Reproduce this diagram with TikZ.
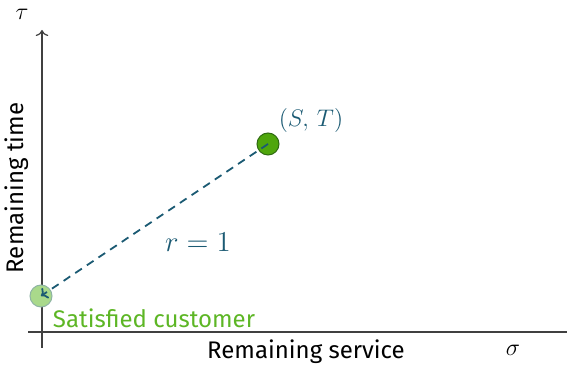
\documentclass[tikz,border=0pt]{standalone}
\usepackage{fontspec}
\setmainfont{Fira Sans}
\usetikzlibrary{arrows.meta}
\definecolor{axisgray}{HTML}{404040}
\definecolor{tealink}{HTML}{1B5A73}
\definecolor{darkgreen}{HTML}{4FA60C}
\definecolor{darkgreenedge}{HTML}{2F6A12}
\definecolor{lightgreen}{HTML}{A9D98B}
\definecolor{lightgreenedge}{HTML}{8FB4A4}
\definecolor{leafgreen}{HTML}{5DB625}
\tikzset{
  axisline/.style={draw=axisgray, line width=0.6pt},
  statedot/.style={circle, minimum size=11pt, inner sep=0pt, line width=0.5pt},
  linklabel/.style={text=tealink, font=\fontsize{12.5}{14}\selectfont},
  axislabel/.style={font=\fontsize{12}{14}\selectfont, text=black},
}
\begin{document}
\begin{tikzpicture}[x=0.5pt, y=-0.5pt]
  \useasboundingbox (0,0) rectangle (567,367);
  % axes
  \coordinate (yfoot) at (42,348);
  \coordinate (ytop) at (42,30);
  \coordinate (xfoot) at (28,332);
  \coordinate (xend) at (580,332);
  \draw[axisline, -{To[length=3pt]}] (yfoot) -- (ytop);
  \draw[axisline] (xfoot) -- (xend);
  \node[axislabel, font=\fontsize{13}{14}\selectfont] (tau) at (22,14) {$\tau$};
  \node[axislabel, font=\fontsize{13}{14}\selectfont] (sigma) at (513,350) {$\sigma$};
  \node[axislabel] (xname) at (306,352) {Remaining service};
  \node[axislabel, rotate=90] (yname) at (17,188) {Remaining time};
  % states
  \node[statedot, fill=darkgreen, draw=darkgreenedge] (start) at (268,144) {};
  \node[statedot, fill=lightgreen, draw=lightgreenedge] (goal) at (41,296) {};
  \draw[tealink, line width=0.9pt, dash pattern=on 4pt off 3pt, -{To[length=3pt]}]
    (start.center) -- (goal.center);
  \node[linklabel] (startlabel) at (311,121) {$(S,\,T)$};
  \node[linklabel, font=\fontsize{13.5}{15}\selectfont] (rate) at (198,242) {$r=1$};
  \node[text=leafgreen, font=\fontsize{12}{14}\selectfont] (goallabel) at (154,318) {Satisfied customer};
\end{tikzpicture}
\end{document}
